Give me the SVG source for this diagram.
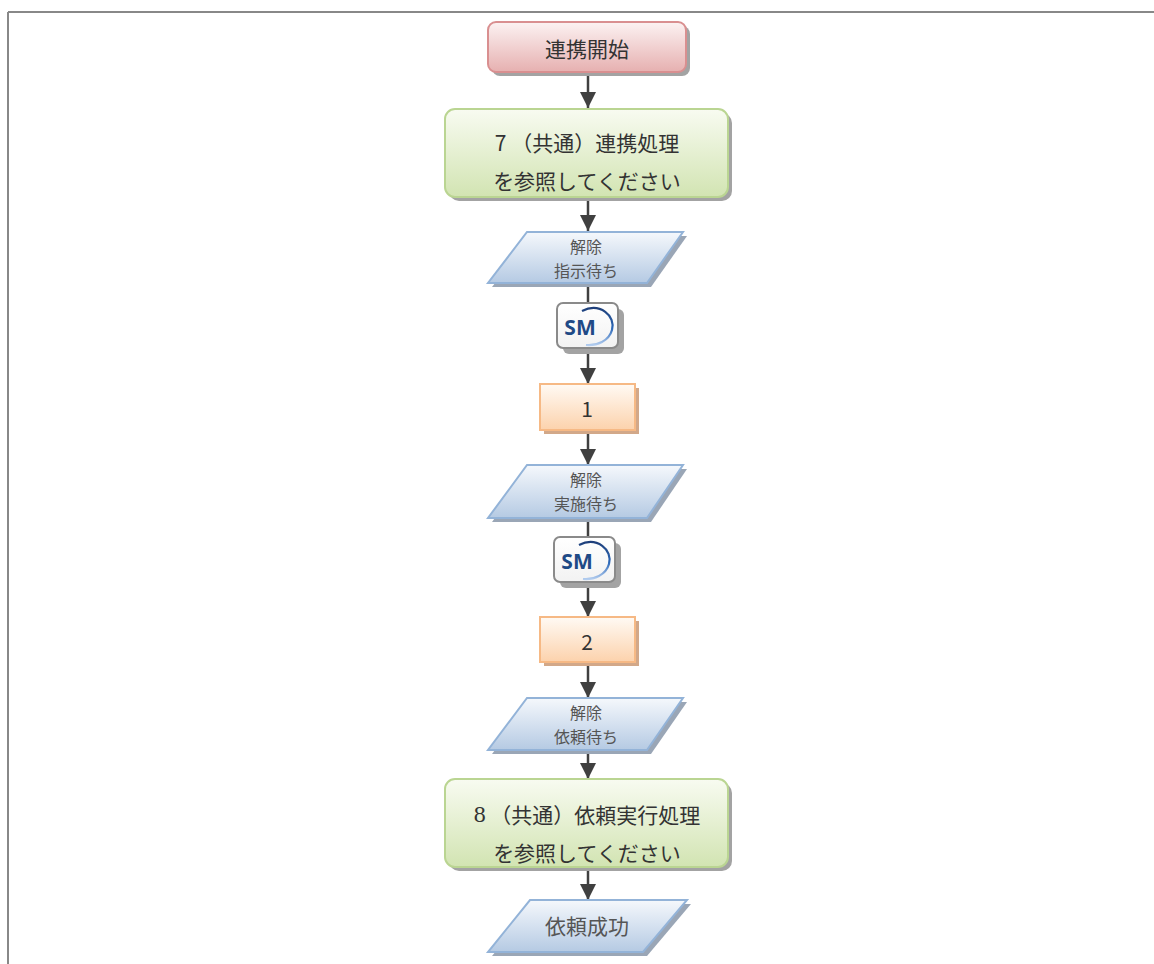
<svg xmlns="http://www.w3.org/2000/svg" width="1154" height="964" viewBox="0 0 1154 964">
<defs>
<linearGradient id="gPink" x1="0" y1="0" x2="0" y2="1"><stop offset="0" stop-color="#fcf2f2"/><stop offset="1" stop-color="#e6b0b0"/></linearGradient>
<linearGradient id="gGreen" x1="0" y1="0" x2="0" y2="1"><stop offset="0" stop-color="#f8fbf1"/><stop offset="1" stop-color="#d2e4b2"/></linearGradient>
<linearGradient id="gBlue" x1="0" y1="0" x2="0" y2="1"><stop offset="0" stop-color="#f5f8fc"/><stop offset="1" stop-color="#b5cae3"/></linearGradient>
<linearGradient id="gOrange" x1="0" y1="0" x2="0" y2="1"><stop offset="0" stop-color="#fffaf4"/><stop offset="1" stop-color="#fcd2ac"/></linearGradient>
<linearGradient id="gSM" x1="0" y1="0" x2="0" y2="1"><stop offset="0" stop-color="#ffffff"/><stop offset="1" stop-color="#f2f2f2"/></linearGradient>
<linearGradient id="gArc" x1="0" y1="0" x2="0" y2="1"><stop offset="0" stop-color="#1e3f7a"/><stop offset="0.55" stop-color="#2c68b8"/><stop offset="1" stop-color="#b3cdef"/></linearGradient>
<marker id="arr" markerUnits="userSpaceOnUse" markerWidth="16" markerHeight="16" viewBox="0 0 10 10" refX="10" refY="5" orient="auto">
<path d="M0,0 L10,5 L0,10 z" fill="#404040"/>
</marker>
</defs>
<style>
.t{font-family:"Noto Sans CJK JP","Liberation Sans",sans-serif;fill:#333;text-anchor:middle;dominant-baseline:central}
.tb{font-size:21px}
.ts{font-size:16px;fill:#555}
.sh{fill:#a3a3a3}
.shb{fill:#9aa6b6}
.sho{fill:#d2a889}
.con{stroke:#404040;stroke-width:2.5;fill:none}
.sm{font-family:"Open Sans","Liberation Sans",sans-serif;font-weight:bold;font-size:21px;fill:#1f4a86;text-anchor:middle;dominant-baseline:central}
.arc{fill:none;stroke:url(#gArc);stroke-width:2.2}
</style>
<rect width="1154" height="964" fill="#fff"/>
<g id="frame" stroke="#888" stroke-width="2" fill="none">
<line x1="8" y1="12" x2="1154" y2="12"/>
<line x1="8" y1="12" x2="8" y2="964"/>
</g>
<g id="connectors">
<line class="con" x1="588" y1="72" x2="588" y2="108" marker-end="url(#arr)"/>
<line class="con" x1="588" y1="198" x2="588" y2="231" marker-end="url(#arr)"/>
<line class="con" x1="588" y1="283" x2="588" y2="304"/>
<line class="con" x1="588" y1="348" x2="588" y2="384" marker-end="url(#arr)"/>
<line class="con" x1="588" y1="430" x2="588" y2="465" marker-end="url(#arr)"/>
<line class="con" x1="588" y1="518" x2="588" y2="538"/>
<line class="con" x1="588" y1="583" x2="588" y2="617" marker-end="url(#arr)"/>
<line class="con" x1="588" y1="662" x2="588" y2="698" marker-end="url(#arr)"/>
<line class="con" x1="588" y1="750" x2="588" y2="779" marker-end="url(#arr)"/>
<line class="con" x1="588" y1="867" x2="588" y2="900" marker-end="url(#arr)"/>
</g>
<g id="start">
<rect class="sh" x="492" y="26" width="198" height="50" rx="8"/>
<rect x="488" y="22" width="198" height="50" rx="8" fill="url(#gPink)" stroke="#d98f90" stroke-width="2"/>
<text class="t tb" x="587" y="48">連携開始</text>
</g>
<g id="proc7">
<rect class="sh" x="449" y="113" width="283" height="88" rx="10"/>
<rect x="445" y="109" width="283" height="88" rx="10" fill="url(#gGreen)" stroke="#bad592" stroke-width="2"/>
<text class="t tb" x="587" y="142">7 （共通）連携処理</text>
<text class="t tb" x="587" y="180">を参照してください</text>
</g>
<g id="wait1">
<polygon class="shb" points="531,236 687,236 651,287 492,287"/>
<polygon points="527,232 683,232 647,283 488,283" fill="url(#gBlue)" stroke="#93b3d8" stroke-width="2"/>
<text class="t ts" x="586" y="246">解除</text>
<text class="t ts" x="586" y="270">指示待ち</text>
</g>
<g id="sm1">
<rect class="sh" x="563" y="309" width="61" height="45" rx="6"/>
<rect x="557" y="303" width="61" height="45" rx="6" fill="url(#gSM)" stroke="#8a8a8a" stroke-width="2"/>
<text class="sm" x="580" y="327">SM</text>
<path class="arc" d="M582,311 C600,302 616,316 612,330 C609,341 597,346 586,345"/>
</g>
<g id="step1">
<rect class="sho" x="544" y="388" width="95" height="46"/>
<rect x="540" y="384" width="95" height="46" fill="url(#gOrange)" stroke="#f6b985" stroke-width="2"/>
<text class="t tb" x="587" y="408">1</text>
</g>
<g id="wait2">
<polygon class="shb" points="531,469 687,469 651,522 492,522"/>
<polygon points="527,465 683,465 647,518 488,518" fill="url(#gBlue)" stroke="#93b3d8" stroke-width="2"/>
<text class="t ts" x="586" y="479">解除</text>
<text class="t ts" x="586" y="503">実施待ち</text>
</g>
<g id="sm2">
<rect class="sh" x="560" y="543" width="61" height="45" rx="6"/>
<rect x="554" y="537" width="61" height="45" rx="6" fill="url(#gSM)" stroke="#8a8a8a" stroke-width="2"/>
<text class="sm" x="577" y="561">SM</text>
<path class="arc" d="M579,545 C597,536 613,550 609,564 C606,575 594,580 583,579"/>
</g>
<g id="step2">
<rect class="sho" x="544" y="621" width="95" height="45"/>
<rect x="540" y="617" width="95" height="45" fill="url(#gOrange)" stroke="#f6b985" stroke-width="2"/>
<text class="t tb" x="587" y="641">2</text>
</g>
<g id="wait3">
<polygon class="shb" points="531,702 687,702 651,754 492,754"/>
<polygon points="527,698 683,698 647,750 488,750" fill="url(#gBlue)" stroke="#93b3d8" stroke-width="2"/>
<text class="t ts" x="586" y="712">解除</text>
<text class="t ts" x="586" y="736">依頼待ち</text>
</g>
<g id="proc8">
<rect class="sh" x="449" y="783" width="283" height="88" rx="10"/>
<rect x="445" y="779" width="283" height="88" rx="10" fill="url(#gGreen)" stroke="#bad592" stroke-width="2"/>
<text class="t tb" x="587" y="814"><tspan font-family="Liberation Serif,serif" font-size="24">8</tspan> （共通）依頼実行処理</text>
<text class="t tb" x="587" y="852">を参照してください</text>
</g>
<g id="success">
<polygon class="shb" points="534,904 691,904 647,956 492,956"/>
<polygon points="530,900 687,900 643,952 488,952" fill="url(#gBlue)" stroke="#93b3d8" stroke-width="2"/>
<text class="t tb" x="587" y="925" style="fill:#555">依頼成功</text>
</g>
</svg>
